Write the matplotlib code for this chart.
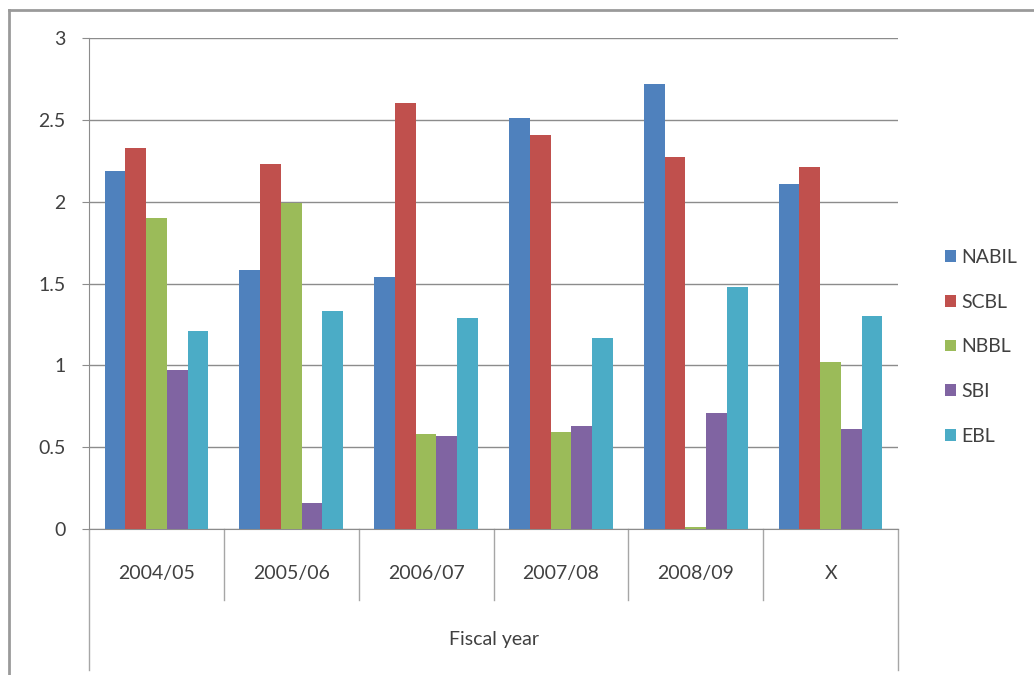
import numpy as np
import matplotlib
matplotlib.use('Agg')
import matplotlib.pyplot as plt
import matplotlib.transforms as mtransforms
from matplotlib.lines import Line2D

plt.rcParams['font.family'] = ['Lato', 'DejaVu Sans']

years = ['2004/05', '2005/06', '2006/07', '2007/08', '2008/09', 'X']
banks = ['NABIL', 'SCBL', 'NBBL', 'SBI', 'EBL']
nabil = [2.19, 1.58, 1.54, 2.51, 2.72, 2.11]
scbl = [2.33, 2.23, 2.60, 2.41, 2.27, 2.21]
nbbl = [1.90, 1.99, 0.58, 0.59, 0.01, 1.02]
sbi = [0.97, 0.16, 0.57, 0.63, 0.71, 0.61]
ebl = [1.21, 1.33, 1.29, 1.17, 1.48, 1.30]
colors = ['#4F81BD', '#C0504D', '#9BBB59', '#8064A2', '#4BACC6']

text_col = '#404040'
grid_col = '#8c8c8c'
fs = 14

fig = plt.figure(figsize=(10.34, 6.75), dpi=100)
ax = fig.add_axes([0.0861, 0.2163, 0.7824, 0.7274])

x = np.arange(len(years))
n = len(banks)
bw = 1 / (n + 1.5)
for i, (name, vals) in enumerate(zip(banks, [nabil, scbl, nbbl, sbi, ebl])):
    ax.bar(x + (i - (n - 1) / 2) * bw, vals, bw, color=colors[i], label=name, zorder=3)

ax.set_xlim(-0.5, len(years) - 0.5)
ax.set_ylim(0, 3)
ax.set_yticks(np.arange(0, 3.01, 0.5))
ax.set_yticklabels(['0', '0.5', '1', '1.5', '2', '2.5', '3'])
ax.yaxis.grid(True, color=grid_col, linewidth=1, zorder=0)
ax.tick_params(axis='y', length=5, color=grid_col, labelsize=fs, labelcolor=text_col, pad=12)
ax.set_xticks([])

for s in ['top', 'right']:
    ax.spines[s].set_visible(False)
for s in ['left', 'bottom']:
    ax.spines[s].set_color(grid_col)

# multi-level category axis
trans = mtransforms.blended_transform_factory(ax.transData, ax.transAxes)
for b in np.arange(0.5, len(years) - 1, 1.0):
    ax.add_line(Line2D([b, b], [0, -0.145], transform=trans, color='#a6a6a6', lw=1, clip_on=False))
for b in [-0.5, len(years) - 0.5]:
    ax.add_line(Line2D([b, b], [0, -0.288], transform=trans, color='#a6a6a6', lw=1, clip_on=False))
for xi, lab in zip(x, years):
    ax.text(xi, -0.09, lab, transform=trans, ha='center', va='center', fontsize=fs, color=text_col)
ax.text(len(years) / 2 - 0.5, -0.225, 'Fiscal year', transform=trans, ha='center', va='center',
        fontsize=fs, color=text_col)

leg = ax.legend(loc='center left', bbox_to_anchor=(0.897, 0.486), bbox_transform=fig.transFigure,
                frameon=False, fontsize=fs, labelspacing=1.42, handlelength=0.55, handleheight=0.55,
                handletextpad=0.3)
for t in leg.get_texts():
    t.set_color(text_col)

# outer chart border
fig.add_artist(Line2D([0.009, 0.009], [0, 0.985], transform=fig.transFigure, color='#9a9a9a', lw=2))
fig.add_artist(Line2D([0.009, 1.0], [0.985, 0.985], transform=fig.transFigure, color='#9a9a9a', lw=2))

fig.savefig('out.png', dpi=100)
